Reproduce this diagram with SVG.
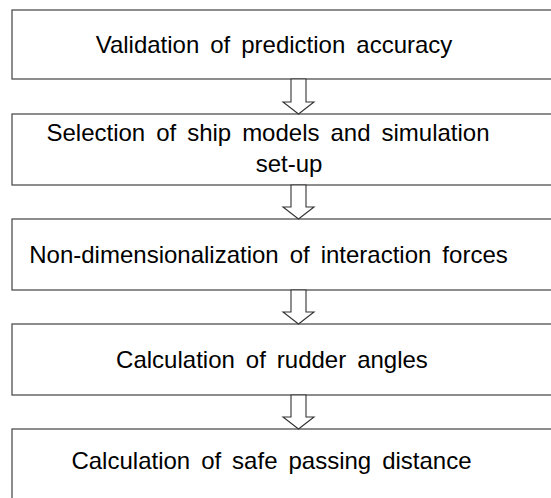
<svg xmlns="http://www.w3.org/2000/svg" width="551" height="498" viewBox="0 0 551 498">
<style>
.box{fill:#fff;stroke:#505050;stroke-width:1.3}
.arr{fill:#fff;stroke:#333;stroke-width:1.1;stroke-linejoin:miter}
text{font-family:"Liberation Sans","Noto Sans CJK KR",sans-serif;font-size:24px;fill:#000;text-anchor:middle;word-spacing:4.3px}
</style>
<rect width="551" height="498" fill="#fff"/>
<g id="n1"><rect class="box" x="12" y="10" width="600" height="69"/><text x="274" y="53">Validation of prediction accuracy</text></g>
<g id="n2"><rect class="box" x="12" y="114" width="600" height="71"/><text x="268" y="141">Selection of ship models and simulation</text><text x="289" y="172">set-up</text></g>
<g id="n3"><rect class="box" x="12" y="219" width="600" height="71"/><text x="268.5" y="263">Non-dimensionalization of interaction forces</text></g>
<g id="n4"><rect class="box" x="12" y="324" width="600" height="71"/><text x="272" y="368">Calculation of rudder angles</text></g>
<g id="n5"><rect class="box" x="12" y="429" width="600" height="100"/><text x="271.5" y="469">Calculation of safe passing distance</text></g>
<g id="connectors">
<polygon class="arr" points="291,79 306,79 306,102 314,102 298.5,114 283,102 291,102"/>
<polygon class="arr" points="291,185 306,185 306,207 314,207 298.5,219 283,207 291,207"/>
<polygon class="arr" points="291,290 306,290 306,312 314,312 298.5,324 283,312 291,312"/>
<polygon class="arr" points="291,395 306,395 306,417 314,417 298.5,429 283,417 291,417"/>
</g>
</svg>
